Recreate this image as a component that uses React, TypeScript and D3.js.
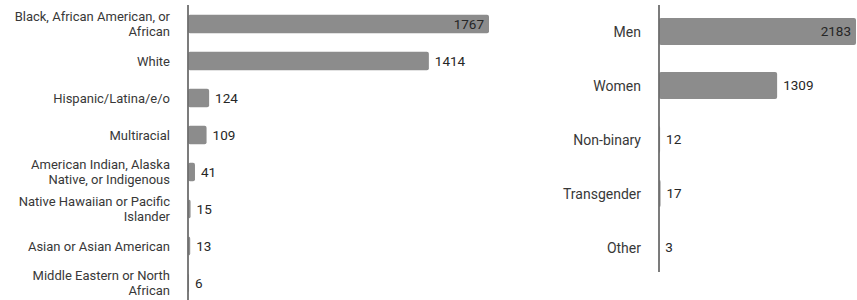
import * as d3 from "d3";

const raceLabels = [
  "Black, African American, or African",
  "White",
  "Hispanic/Latina/e/o",
  "Multiracial",
  "American Indian, Alaska Native, or Indigenous",
  "Native Hawaiian or Pacific Islander",
  "Asian or Asian American",
  "Middle Eastern or North African",
];
const raceValues = [1767, 1414, 124, 109, 41, 15, 13, 6];

const genderLabels = ["Men", "Women", "Non-binary", "Transgender", "Other"];
const genderValues = [2183, 1309, 12, 17, 3];

const FONT = "Roboto, 'Noto Sans', sans-serif";
const BAR = "#8c8c8c";
const AXIS = "#6e6e6e";
const TEXT = "#383838";

// crude word wrap, measured with canvas
const ctx = document.createElement("canvas").getContext("2d")!;
function wrap(label: string, maxW: number, size: number) {
  ctx.font = `${size}px Roboto`;
  const words = label.split(" ");
  const lines: string[] = [];
  let cur = "";
  words.forEach((w) => {
    const test = cur ? cur + " " + w : w;
    if (ctx.measureText(test).width > maxW && cur) {
      lines.push(cur);
      cur = w;
    } else cur = test;
  });
  if (cur) lines.push(cur);
  return lines;
}

type BarsProps = {
  labels: string[];
  values: number[];
  axisX: number;
  maxX: number;
  yRange: [number, number];
  axisEnd: number;
  labelX: number;
  labelSize: number;
};

function Bars({ labels, values, axisX, maxX, yRange, axisEnd, labelX, labelSize }: BarsProps) {
  const max = d3.max(values) ?? 1;
  const x = d3.scaleLinear().domain([0, max]).range([axisX, maxX]);
  const y = d3
    .scaleBand()
    .domain(labels)
    .range(yRange)
    .paddingInner(0.5)
    .paddingOuter(0.25);

  return (
    <g>
      {labels.map((name, i) => {
        const v = values[i];
        const yPos = y(name) ?? 0;
        const cy = yPos + y.bandwidth() / 2;
        const inside = v === max;
        const lines = wrap(name, 162, labelSize);
        const lh = 15.5;
        return (
          <g key={name}>
            <rect
              x={axisX}
              y={yPos}
              width={x(v) - axisX}
              height={y.bandwidth()}
              rx={2}
              fill={BAR}
            />
            <text
              x={inside ? x(v) - 5 : x(v) + 6}
              y={cy + 1}
              textAnchor={inside ? "end" : "start"}
              dominantBaseline="middle"
              fontSize={13.5}
              fill="#262626"
            >
              {v}
            </text>
            <text
              x={labelX}
              textAnchor="end"
              dominantBaseline="middle"
              fontSize={labelSize}
              fill={TEXT}
            >
              {lines.map((l, j) => (
                <tspan key={j} x={labelX} y={cy + 1.5 + (j - (lines.length - 1) / 2) * lh}>
                  {l}
                </tspan>
              ))}
            </text>
          </g>
        );
      })}
      <line x1={axisX} x2={axisX} y1={5} y2={axisEnd} stroke={AXIS} strokeWidth={1.8} />
    </g>
  );
}

export default function App() {
  return (
    <svg
      width={857}
      height={300}
      style={{ position: "absolute", left: 0, top: 0, fontFamily: FONT, background: "#fff" }}
    >
      <Bars
        labels={raceLabels}
        values={raceValues}
        axisX={188}
        maxX={489}
        yRange={[5.5, 301.5]}
        axisEnd={300}
        labelX={170}
        labelSize={13}
      />
      <Bars
        labels={genderLabels}
        values={genderValues}
        axisX={659}
        maxX={856}
        yRange={[4.5, 274.5]}
        axisEnd={272}
        labelX={641}
        labelSize={14}
      />
    </svg>
  );
}
